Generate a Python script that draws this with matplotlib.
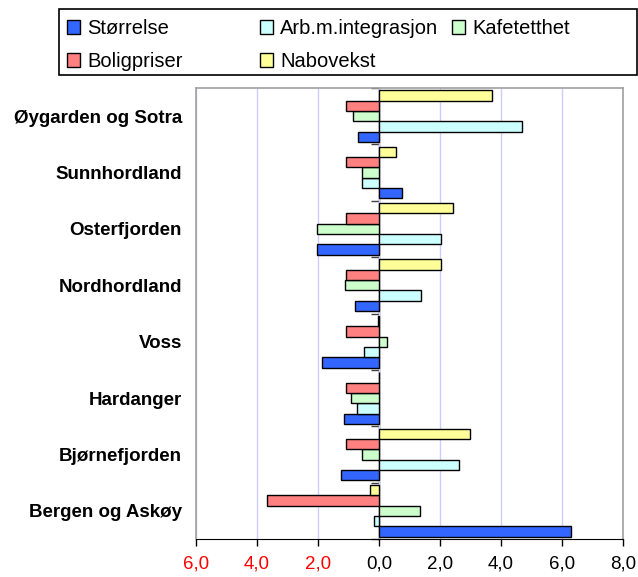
import matplotlib.pyplot as plt
import numpy as np
from matplotlib.patches import Rectangle
from matplotlib.ticker import FuncFormatter

plt.rcParams['font.family'] = ['Liberation Sans', 'DejaVu Sans']

# Categories from bottom to top
regions = ["Bergen og Askøy", "Bjørnefjorden", "Hardanger", "Voss",
           "Nordhordland", "Osterfjorden", "Sunnhordland", "Øygarden og Sotra"]

series_names = ["Størrelse", "Arb.m.integrasjon", "Kafetetthet", "Boligpriser", "Nabovekst"]
storrelse = [6.31, -1.23, -1.15, -1.86, -0.78, -2.02, 0.74, -0.70]
arb_integrasjon = [-0.16, 2.62, -0.73, -0.49, 1.38, 2.04, -0.57, 4.69]
kafetetthet = [1.33, -0.57, -0.91, 0.25, -1.10, -2.02, -0.57, -0.86]
boligpriser = [-3.68, -1.07, -1.07, -1.07, -1.07, -1.07, -1.07, -1.07]
nabovekst = [-0.28, 2.99, 0.0, -0.03, 2.04, 2.42, 0.55, 3.70]

colors = ["#3366FF", "#CCFFFF", "#CCFFCC", "#FF8080", "#FFFF99"]

W, H = 638, 577
fig = plt.figure(figsize=(W / 100, H / 100), dpi=100)
ax = fig.add_axes([196 / W, 1 - 539 / H, (623 - 196) / W, (539 - 88) / H])

y = np.arange(len(regions))
h = 0.184
bars = []
for i, vals in enumerate([storrelse, arb_integrasjon, kafetetthet, boligpriser, nabovekst]):
    b = ax.barh(y + (i - 2) * h, vals, height=h, color=colors[i],
                edgecolor="black", linewidth=1.0, label=series_names[i], zorder=3)
    bars.append(b)

ax.set_xlim(-6, 8)
ax.set_ylim(-0.5, len(regions) - 0.5)
ax.set_xticks(np.arange(-6, 9, 2))
ax.xaxis.set_major_formatter(FuncFormatter(lambda v, p: f"{abs(v):.1f}".replace(".", ",")))
ax.tick_params(axis="x", direction="out", length=5, width=1, color="black",
               labelsize=13.5, pad=7)
for lbl, v in zip(ax.get_xticklabels(), np.arange(-6, 9, 2)):
    lbl.set_color("red" if v < 0 else "black")

ax.set_yticks(y)
ax.set_yticklabels(regions, fontweight="bold", fontsize=13.5)
ax.tick_params(axis="y", length=0, pad=10)

ax.grid(axis="x", color="#CCCCFF", linewidth=1, zorder=0)
ax.set_axisbelow(True)
for s in ["top", "right", "left"]:
    ax.spines[s].set_color("#A0A0A0")
    ax.spines[s].set_linewidth(1.2)
ax.spines["bottom"].set_color("black")

# category axis crossing at zero
sec = ax.secondary_yaxis(6 / 14)
sec.set_yticks(np.arange(-0.5, len(regions), 1.0))
sec.set_yticklabels([])
sec.tick_params(axis="y", direction="out", length=6, color="#404040", width=1)
sec.spines["left"].set_color("#404040")
sec.spines["left"].set_linewidth(1)

# legend, one column at a time, in a frame
handles = [b for b in bars]
cols = [([handles[0], handles[3]], 67), ([handles[1], handles[4]], 260), ([handles[2]], 452)]
for hs, x0 in cols:
    fig.legend(hs, [hh.get_label() for hh in hs], loc="upper left",
               bbox_to_anchor=(x0 / W, 1 - 19 / H), frameon=False, fontsize=14.5,
               handlelength=0.65, handleheight=0.65, handletextpad=0.35,
               labelspacing=0.7, borderpad=0, borderaxespad=0)
fig.patches.append(Rectangle((59 / W, 1 - 75 / H), (637 - 59) / W, (75 - 9) / H,
                             transform=fig.transFigure, fill=False,
                             edgecolor="black", linewidth=1.2))

fig.savefig("out.png", dpi=100)
